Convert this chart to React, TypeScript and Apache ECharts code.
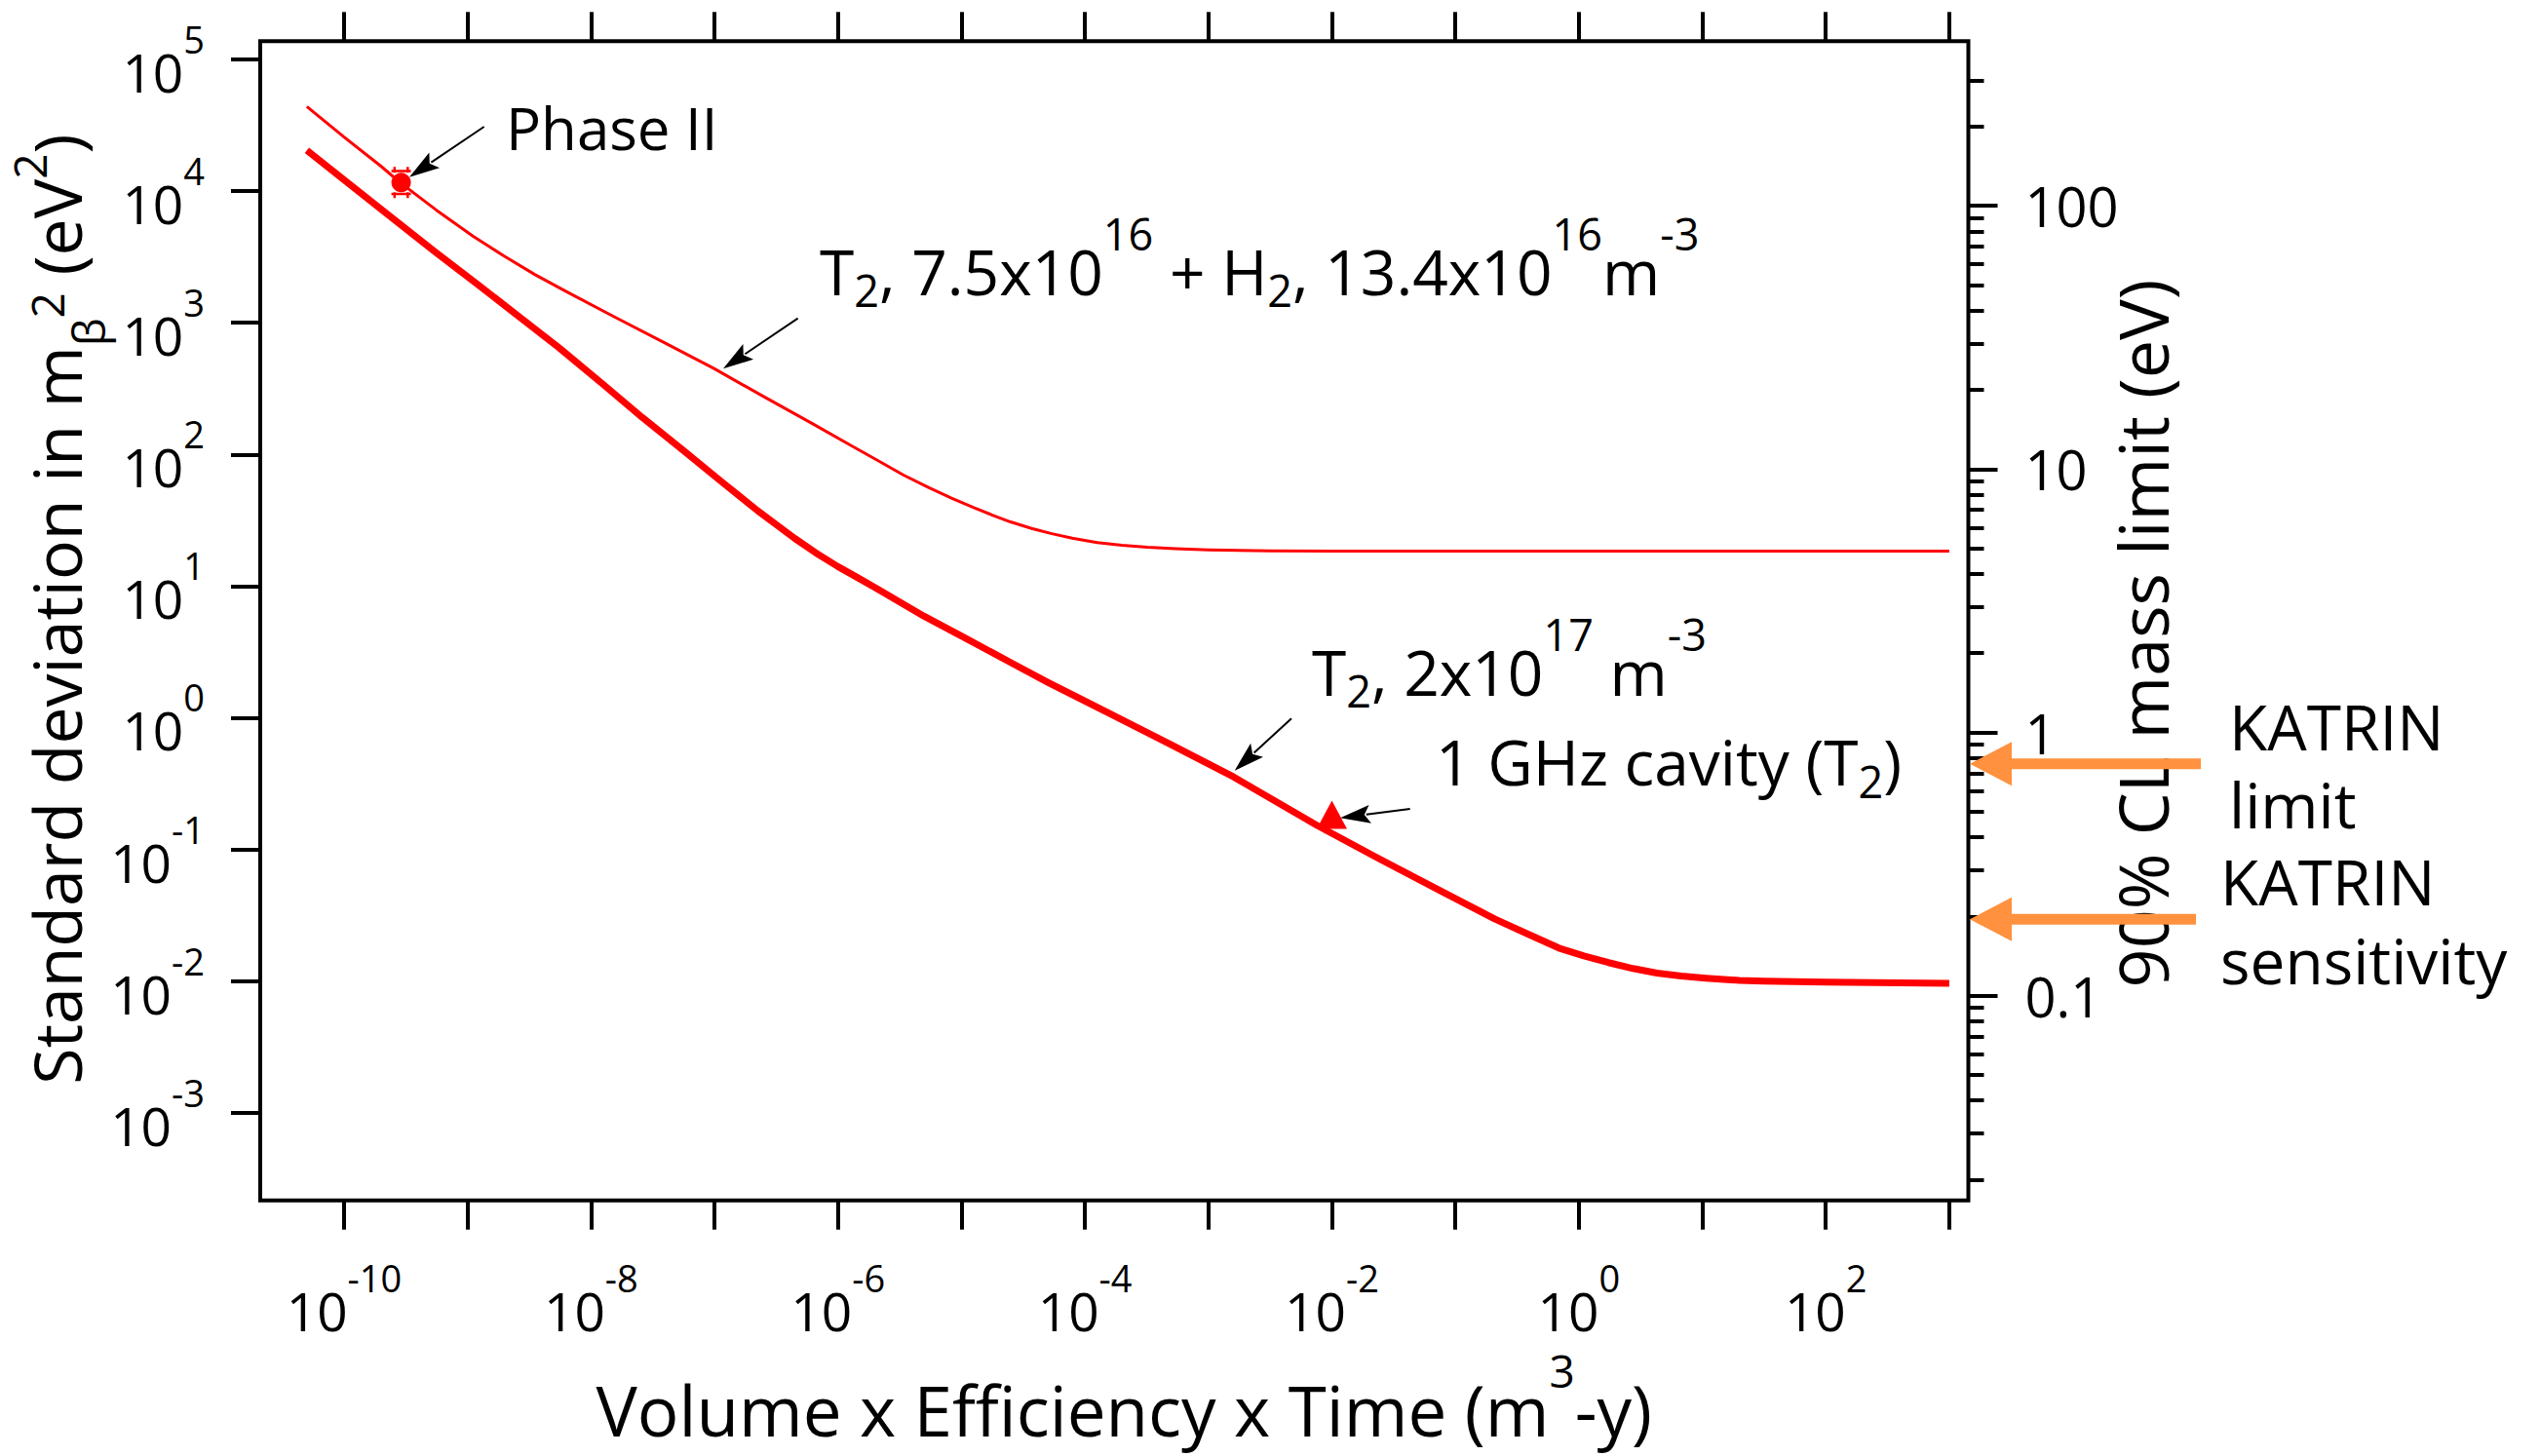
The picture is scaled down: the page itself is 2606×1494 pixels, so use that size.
import React, { useEffect, useRef } from 'react';
import * as echarts from 'echarts';

const W = 2606;
const H = 1494;
const FONT = '"Open Sans", "Liberation Sans", sans-serif';

// ---- axis extents ----
const X_MIN = 2.095e-11;
const X_MAX = 1428;
const Y_MIN = 2.158e-4;
const Y_MAX = 1.375e5;
const M_MIN = 0.0167;
const M_MAX = 421.7;

// ---- tick values ----
const xTickValues = [1e-10, 1e-9, 1e-8, 1e-7, 1e-6, 1e-5, 1e-4, 1e-3, 1e-2, 1e-1, 1, 10, 100, 1000];
const xLabelValues = [1e-10, 1e-8, 1e-6, 1e-4, 1e-2, 1, 100];
const yTickValues = [1e-3, 1e-2, 1e-1, 1, 10, 100, 1e3, 1e4, 1e5];
const massMajorValues = [0.1, 1, 10, 100];
const massMinorValues = [
  0.02, 0.03, 0.04, 0.05, 0.06, 0.07, 0.08, 0.09,
  0.2, 0.3, 0.4, 0.5, 0.6, 0.7, 0.8, 0.9,
  2, 3, 4, 5, 6, 7, 8, 9,
  20, 30, 40, 50, 60, 70, 80, 90,
  200, 300,
];

// ---- series: T2 7.5e16 + H2 13.4e16 m^-3 (thin) ----
const thinX = [5.0e-11, 1.0e-10, 2.0e-10, 2.8e-10, 5.6e-10, 1.12e-9, 1.95e-9, 3.5e-9, 6.3e-9, 1.58e-8, 4.0e-8, 1.0e-7, 2.5e-7, 6.3e-7, 1.26e-6, 2.1e-6, 3.4e-6, 5.4e-6, 8.3e-6, 1.26e-5, 1.78e-5, 2.5e-5, 3.7e-5, 5.4e-5, 7.9e-5, 1.26e-4, 2.0e-4, 3.2e-4, 5.4e-4, 1.0e-3, 3.2e-3, 1.0e-2, 0.1, 1, 10, 100, 1000];
const thinY = [4.39e4, 2.57e4, 1.54e4, 1.175e4, 7160, 4520, 3236, 2328, 1726, 1096, 700, 447, 275, 170, 117.5, 90, 69.6, 56.1, 46.6, 39.4, 34.6, 30.7, 27.4, 25.0, 23.1, 21.4, 20.4, 19.7, 19.2, 18.8, 18.5, 18.45, 18.4, 18.4, 18.4, 18.4, 18.4];

// ---- series: T2 2e17 m^-3 (thick) ----
const thickX = [5.0e-11, 1.12e-10, 2.5e-10, 5.6e-10, 1.17e-9, 2.5e-9, 5.5e-9, 1.26e-8, 2.6e-8, 5.6e-8, 1.15e-7, 2.24e-7, 3.16e-7, 4.47e-7, 6.6e-7, 1.0e-6, 1.45e-6, 2.1e-6, 5.0e-6, 1.0e-5, 2.5e-5, 5.0e-5, 1.6e-4, 4.9e-4, 1.6e-3, 7.6e-3, 2.3e-2, 7.4e-2, 0.21, 0.38, 0.69, 1.10, 1.74, 2.75, 4.3, 6.76, 10.7, 20, 31.6, 100, 1000];
const thickY = [2.04e4, 1.12e4, 6170, 3390, 2000, 1150, 646, 339, 191, 107, 61.7, 37.3, 29.3, 23.0, 17.9, 14.06, 11.56, 9.48, 5.89, 4.17, 2.63, 1.86, 1.07, 0.63, 0.355, 0.152, 0.087, 0.049, 0.0295, 0.0229, 0.0178, 0.0155, 0.0138, 0.01245, 0.0115, 0.0109, 0.0105, 0.0101, 0.0100, 0.0098, 0.0096];

// ---- single points ----
const phaseIIPoint = [2.9e-10, 1.16e4];
const cavityPoint = [1e-2, 0.183];

// ---- KATRIN references on the mass axis (eV) ----
const katrinLimit = 0.76;
const katrinSensitivity = 0.195;

const RED = '#ff0000';
const ORANGE = '#ff913f';

const powLabel = (v: number) => {
  const e = Math.round(Math.log10(v));
  return `{b|10}{s|${e}}`;
};

const tickRich = {
  b: { fontFamily: FONT, fontSize: 55, lineHeight: 80, padding: [25, 0, 0, 0], verticalAlign: 'top', color: '#000' },
  s: { fontFamily: FONT, fontSize: 38, lineHeight: 38, verticalAlign: 'top', color: '#000' },
};

const annRich = {
  b: { fontFamily: FONT, fontSize: 64, lineHeight: 93, padding: [29, 0, 0, 0], verticalAlign: 'top', color: '#000', fontWeight: 'normal' },
  sup: { fontFamily: FONT, fontSize: 45, lineHeight: 45, verticalAlign: 'top', color: '#000', fontWeight: 'normal' },
  sub: { fontFamily: FONT, fontSize: 45, lineHeight: 103, padding: [58, 0, 0, 0], verticalAlign: 'top', color: '#000', fontWeight: 'normal' },
};

const tickStyle = { color: '#000', width: 4 };

function blackArrow(x1: number, y1: number, x2: number, y2: number) {
  const dx = x2 - x1;
  const dy = y2 - y1;
  const len = Math.hypot(dx, dy);
  const ux = dx / len;
  const uy = dy / len;
  const px = -uy;
  const py = ux;
  const hl = 31;
  const hw = 9.5;
  const bx = x2 - ux * hl;
  const by = y2 - uy * hl;
  return [
    { type: 'line', z: 100, shape: { x1, y1, x2: bx + ux * 4, y2: by + uy * 4 }, style: { stroke: '#000', lineWidth: 2 } },
    {
      type: 'polygon', z: 100,
      shape: { points: [[x2, y2], [bx + px * hw, by + py * hw], [bx + ux * 6, by + uy * 6], [bx - px * hw, by - py * hw]] },
      style: { fill: '#000' },
    },
  ];
}

// annotation arrows: [fromX, fromY, tipX, tipY]
const annotationArrows = [
  [496.7, 130, 420, 181.7],
  [818.6, 326.7, 742, 378.3],
  [1325, 737.3, 1266.7, 790.7],
  [1446.7, 830, 1375, 839.3],
];

function plainTitle(text: string, left: number, top: number, fontSize: number, lineHeight: number) {
  return {
    text, left, top, padding: 0,
    textStyle: { fontFamily: FONT, fontSize, lineHeight, fontWeight: 'normal', color: '#000' },
  };
}

function richTitle(text: string, left: number, top: number) {
  return {
    text, left, top, padding: 0,
    textStyle: { fontFamily: FONT, fontSize: 64, fontWeight: 'normal', color: '#000', rich: annRich },
  };
}

export default function App() {
  const ref = useRef<HTMLDivElement>(null);

  useEffect(() => {
    if (!ref.current) return;
    const chart = echarts.init(ref.current, null, { renderer: 'svg', width: W, height: H });

    const option: any = {
      animation: false,
      backgroundColor: '#fff',
      textStyle: { fontFamily: FONT },
      grid: {
        left: 267, right: W - 2019.5, top: 42.3, bottom: H - 1231.7,
        show: true, borderColor: '#000', borderWidth: 4, backgroundColor: 'transparent',
        containLabel: false, outerBoundsMode: 'none',
      },
      title: [
        plainTitle('Phase II', 519, 101, 60, 60),
        richTitle('{b|T}{sub|2}{b|, 7.5x10}{sup|16}{b| + H}{sub|2}{b|, 13.4x10}{sup|16}{b|m}{sup|-3}', 841, 217),
        richTitle('{b|T}{sub|2}{b|, 2x10}{sup|17}{b| m}{sup|-3}', 1346, 628),
        richTitle('{b|1 GHz cavity (T}{sub|2}{b|)}', 1473, 720.5),
        plainTitle('KATRIN\nlimit', 2287, 705.5, 64, 80),
        plainTitle('KATRIN\nsensitivity', 2278, 863.5, 64, 81),
      ],
      xAxis: [
        {
          type: 'log', position: 'bottom', min: X_MIN, max: X_MAX,
          axisLine: { show: false },
          axisTick: { show: true, length: 30, lineStyle: tickStyle, customValues: xTickValues },
          minorTick: { show: false },
          splitLine: { show: false },
          axisLabel: { customValues: xLabelValues, formatter: powLabel, margin: 60, rich: tickRich, color: '#000' },
          name: '{a|Volume x Efficiency x Time (m}{s|3}{a|-y)}',
          nameLocation: 'middle', nameGap: 151.5, nameMoveOverlap: false,
          nameTextStyle: {
            color: '#000', padding: [0, 0, 0, 20],
            rich: {
              a: { fontFamily: FONT, fontSize: 71, lineHeight: 99, padding: [28, 0, 0, 0], verticalAlign: 'top', color: '#000' },
              s: { fontFamily: FONT, fontSize: 46, lineHeight: 46, verticalAlign: 'top', color: '#000' },
            },
          },
        },
        {
          type: 'log', position: 'top', min: X_MIN, max: X_MAX,
          axisLine: { show: false },
          axisTick: { show: true, length: 30, lineStyle: tickStyle, customValues: xTickValues },
          minorTick: { show: false },
          splitLine: { show: false },
          axisLabel: { show: false },
        },
      ],
      yAxis: [
        {
          type: 'log', position: 'left', min: Y_MIN, max: Y_MAX,
          axisLine: { show: false },
          axisTick: { show: true, length: 30, lineStyle: tickStyle, customValues: yTickValues },
          minorTick: { show: false },
          splitLine: { show: false },
          axisLabel: { customValues: yTickValues, formatter: powLabel, margin: 57, rich: tickRich, color: '#000' },
          name: '{a|Standard deviation in m}{sub|β}{s2|2}{a| (eV}{s1|2}{a|)}',
          nameLocation: 'middle', nameRotate: 90, nameGap: 154, nameMoveOverlap: false,
          nameTextStyle: {
            color: '#000', padding: [0, 0, 0, 24],
            rich: {
              a: { fontFamily: FONT, fontSize: 68, lineHeight: 84, padding: [16, 0, 0, 0], verticalAlign: 'top', color: '#000' },
              s1: { fontFamily: FONT, fontSize: 46, lineHeight: 46, verticalAlign: 'top', color: '#000' },
              s2: { fontFamily: FONT, fontSize: 46, lineHeight: 64, padding: [18, 0, 0, 0], verticalAlign: 'top', color: '#000' },
              sub: { fontFamily: FONT, fontSize: 46, lineHeight: 106, padding: [60, 0, 0, 0], verticalAlign: 'top', color: '#000' },
            },
          },
        },
        {
          type: 'log', position: 'right', min: M_MIN, max: M_MAX,
          axisLine: { show: false },
          axisTick: { show: true, length: 30, lineStyle: tickStyle, customValues: massMajorValues },
          minorTick: { show: false },
          splitLine: { show: false },
          axisLabel: {
            customValues: massMajorValues, formatter: (v: number) => String(v), margin: 58,
            fontFamily: FONT, fontSize: 56, color: '#000',
          },
          name: '90% CL mass limit (eV)',
          nameLocation: 'middle', nameRotate: 90, nameGap: 143.5, nameMoveOverlap: false,
          nameTextStyle: { fontFamily: FONT, fontSize: 70, lineHeight: 70, color: '#000', padding: [0, 26, 0, 0] },
        },
        {
          type: 'log', position: 'right', min: M_MIN, max: M_MAX,
          axisLine: { show: false },
          axisTick: { show: true, length: 16, lineStyle: tickStyle, customValues: massMinorValues },
          minorTick: { show: false },
          splitLine: { show: false },
          axisLabel: { show: false },
        },
      ],
      series: [
        {
          name: 'T2 + H2', type: 'line', xAxisIndex: 0, yAxisIndex: 0,
          data: thinX.map((x, i) => [x, thinY[i]]),
          showSymbol: false, symbol: 'none', smooth: false, silent: true,
          lineStyle: { color: RED, width: 3, join: 'round' },
        },
        {
          name: 'T2', type: 'line', xAxisIndex: 0, yAxisIndex: 0,
          data: thickX.map((x, i) => [x, thickY[i]]),
          showSymbol: false, symbol: 'none', smooth: false, silent: true,
          lineStyle: { color: RED, width: 7, join: 'round' },
        },
        {
          name: 'Phase II', type: 'scatter', xAxisIndex: 0, yAxisIndex: 0, silent: true, z: 5,
          data: [phaseIIPoint], symbol: 'circle', symbolSize: 20, itemStyle: { color: RED, opacity: 1 },
        },
        {
          name: 'Phase II error', type: 'scatter', xAxisIndex: 0, yAxisIndex: 0, silent: true, z: 5,
          data: [phaseIIPoint],
          symbol: 'path://M-10,-13h20v2.5h-20z M-10,10.5h20v2.5h-20z M-8,-16h2.5v6h-2.5z M5.5,-16h2.5v6h-2.5z M-8,10h2.5v6h-2.5z M5.5,10h2.5v6h-2.5z',
          symbolSize: [20, 32], itemStyle: { color: RED, opacity: 1 },
        },
        {
          name: '1 GHz cavity', type: 'scatter', xAxisIndex: 0, yAxisIndex: 0, silent: true, z: 5,
          data: [cavityPoint], symbol: 'triangle', symbolSize: [31, 29], itemStyle: { color: RED, opacity: 1 },
        },
      ],
    };

    chart.setOption(option);

    const frameX = chart.convertToPixel({ xAxisIndex: 0 }, X_MAX) as number;
    const orange = (value: number, shaftLen: number) => {
      const y = chart.convertToPixel({ yAxisIndex: 1 }, value) as number;
      const tipX = frameX + 1.5;
      const backX = tipX + 43;
      return [
        { type: 'rect', z: 100, shape: { x: backX - 2, y: y - 5.5, width: frameX + shaftLen - backX + 2, height: 11 }, style: { fill: ORANGE } },
        { type: 'polygon', z: 100, shape: { points: [[tipX, y], [backX, y - 22.5], [backX, y + 22.5]] }, style: { fill: ORANGE } },
      ];
    };

    const graphics: any[] = [];
    annotationArrows.forEach((a) => graphics.push(...blackArrow(a[0], a[1], a[2], a[3])));
    graphics.push(...orange(katrinLimit, 238.5));
    graphics.push(...orange(katrinSensitivity, 233.5));

    chart.setOption({ graphic: graphics });

    return () => chart.dispose();
  }, []);

  return (
    <div
      ref={ref}
      style={{ position: 'fixed', left: 0, top: 0, width: W, height: H, background: '#fff' }}
    />
  );
}
